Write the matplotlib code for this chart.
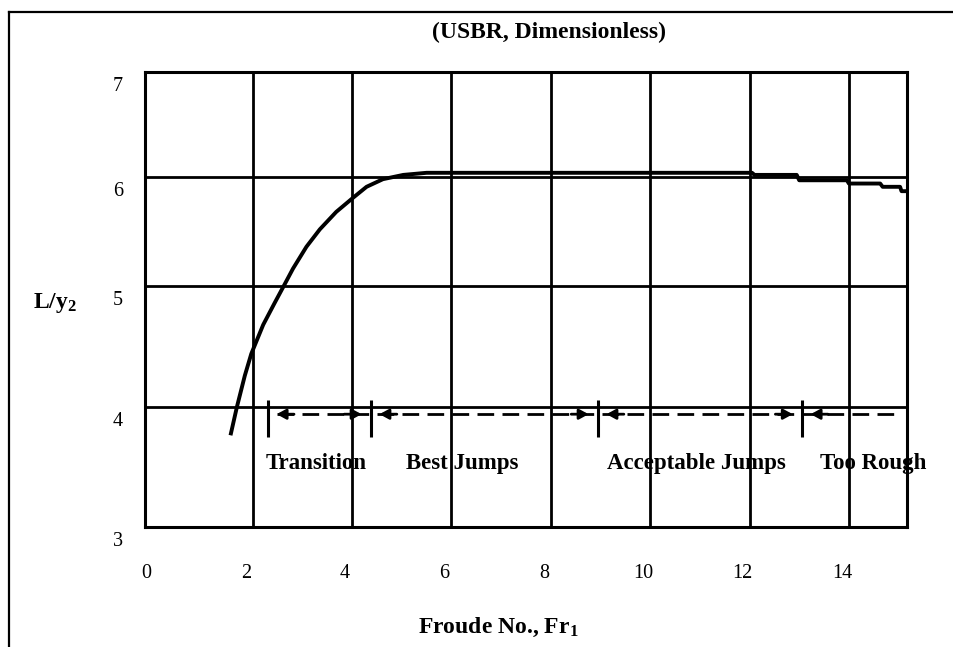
import numpy as np
import matplotlib
matplotlib.use("Agg")
import matplotlib.pyplot as plt
from matplotlib.lines import Line2D
from matplotlib.transforms import ScaledTranslation

plt.rcParams['font.family'] = ['Liberation Serif', 'DejaVu Serif']
plt.rcParams['mathtext.fontset'] = 'custom'
plt.rcParams['mathtext.rm'] = 'Liberation Serif'
plt.rcParams['mathtext.bf'] = 'Liberation Serif:bold'
plt.rcParams['mathtext.it'] = 'Liberation Serif:italic'

# ---- data ----
froude = [1.56, 1.68, 1.84, 1.97, 2.21, 2.44, 2.61, 2.81, 3.08, 3.35, 3.68,
          4.02, 4.29, 4.62, 5.03, 5.50, 8.00, 12.05, 12.10, 12.95, 13.00,
          13.96, 14.00, 14.63, 14.68, 15.03, 15.06, 15.13]
length_ratio = [3.78, 4.00, 4.26, 4.44, 4.68, 4.86, 4.99, 5.16, 5.36, 5.52, 5.68,
                5.81, 5.91, 5.98, 6.02, 6.04, 6.04, 6.04, 6.02, 6.02, 5.97,
                5.97, 5.94, 5.94, 5.91, 5.91, 5.87, 5.87]

zone_bounds = [2.30, 4.37, 8.94, 13.05]
zone_line_end = 15.0
zone_line_y = 3.94
zone_names = ["Transition", "Best Jumps", "Acceptable Jumps", "Too Rough"]
zone_label_x = [3.27, 6.21, 10.92, 14.48]
zone_label_y = 3.53

x_ticks = [0, 2, 4, 6, 8, 10, 12, 14]
y_ticks = [3, 4, 5, 6, 7]
# scanned grid is slightly uneven: relative spacing of the horizontal rules
y_rule_spacing = [0, 120, 241, 350, 455]

# ---- figure ----
fig = plt.figure(figsize=(9.54, 6.47), dpi=100)
ax = fig.add_axes([145/954, 120/647, 762/954, 455/647])

fwd = lambda v: np.interp(v, y_ticks, y_rule_spacing)
inv = lambda p: np.interp(p, y_rule_spacing, y_ticks)
ax.set_yscale('function', functions=(fwd, inv))

ax.plot(froude, length_ratio, color='black', lw=2.8, solid_joinstyle='round')

ax.set_xlim(-0.17, 15.17)
ax.set_ylim(3, 7)
ax.set_xticks(x_ticks)
ax.set_yticks(y_ticks)
ax.minorticks_off()
ax.grid(True, color='black', lw=2.0)
ax.set_axisbelow(True)
for s in ax.spines.values():
    s.set_linewidth(2.2)
ax.tick_params(axis='both', length=0, labelsize=14.5)
ax.tick_params(axis='x', pad=27)
ax.tick_params(axis='y', pad=16)

# zone markers
ax.vlines(zone_bounds, 3.75, 4.06, color='black', lw=2.2)
gap = 0.18
ax.hlines(zone_line_y, zone_bounds[0] + gap, zone_line_end, color='black',
          lw=2.0, linestyles=[(0, (6, 3))])
aprops = dict(arrowstyle='-|>,head_length=0.55,head_width=0.3', color='black',
              lw=2.0, shrinkA=0, shrinkB=0)
for i, b in enumerate(zone_bounds):
    ax.annotate('', xy=(b + gap, zone_line_y), xytext=(b + gap + 0.35, zone_line_y),
                arrowprops=aprops)
    if i > 0:
        ax.annotate('', xy=(b - gap, zone_line_y), xytext=(b - gap - 0.35, zone_line_y),
                    arrowprops=aprops)
for name, xc in zip(zone_names, zone_label_x):
    ax.text(xc, zone_label_y, name, ha='center', va='center', fontsize=16.5,
            fontweight='bold', clip_on=False)

# text
fig.text(549/954, 1 - 32/647, "(USBR, Dimensionless)", ha='center', va='center',
         fontsize=17, fontweight='bold')
fig.text(498/954, 20/647, r"Froude No., Fr$_{\mathbf{1}}$", ha='center', va='center',
         fontsize=17, fontweight='bold')
fig.text(55/954, 1 - 303/647, r"L/y$_{\mathbf{2}}$", ha='center', va='center',
         fontsize=17, fontweight='bold')

# page frame (left and top rules)
fig.add_artist(Line2D([9.5/954, 9.5/954], [0, 1 - 12/647], transform=fig.transFigure,
                      color='black', lw=1.6))
fig.add_artist(Line2D([9.5/954, 1], [1 - 12/647, 1 - 12/647], transform=fig.transFigure,
                      color='black', lw=1.6))

fig.canvas.draw()
xoff = ScaledTranslation(-7/100, 0, fig.dpi_scale_trans)
yoff = ScaledTranslation(0, -12/100, fig.dpi_scale_trans)
xt = ax.xaxis.get_major_ticks()
xt[0].gridline.set_visible(False)
for t in xt:
    t.label1.set_transform(t.label1.get_transform() + xoff)
for t in ax.yaxis.get_major_ticks():
    t.label1.set_transform(t.label1.get_transform() + yoff)

fig.savefig("out.png", dpi=100)
